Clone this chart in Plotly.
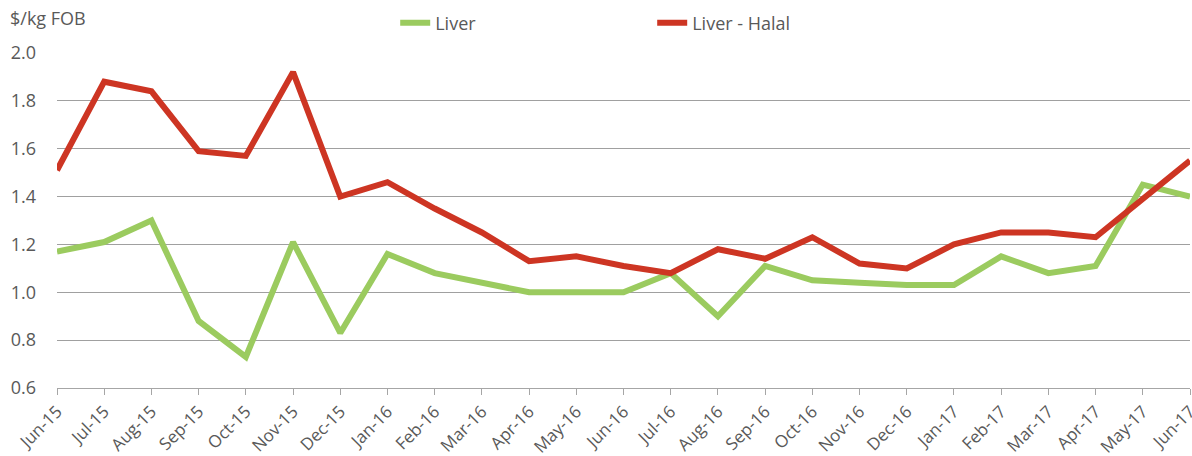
import plotly.graph_objects as go

months = ["Jun-15","Jul-15","Aug-15","Sep-15","Oct-15","Nov-15","Dec-15","Jan-16","Feb-16","Mar-16",
          "Apr-16","May-16","Jun-16","Jul-16","Aug-16","Sep-16","Oct-16","Nov-16","Dec-16","Jan-17",
          "Feb-17","Mar-17","Apr-17","May-17","Jun-17"]
liver = [1.17,1.21,1.30,0.88,0.73,1.21,0.83,1.16,1.08,1.04,
         1.00,1.00,1.00,1.08,0.90,1.11,1.05,1.04,1.03,1.03,
         1.15,1.08,1.11,1.45,1.40]
liver_halal = [1.51,1.88,1.84,1.59,1.57,1.92,1.40,1.46,1.35,1.25,
               1.13,1.15,1.11,1.08,1.18,1.14,1.23,1.12,1.10,1.20,
               1.25,1.25,1.23,1.39,1.55]
y_ticks = [0.6,0.8,1.0,1.2,1.4,1.6,1.8,2.0]

font_fam = "'Open Sans', Lato, sans-serif"
grey = "#595959"

fig = go.Figure()
fig.add_trace(go.Scatter(x=months, y=liver, mode="lines", name="Liver",
                         line=dict(color="#9BCB5F", width=6)))
fig.add_trace(go.Scatter(x=months, y=liver_halal, mode="lines", name="Liver - Halal",
                         line=dict(color="#CD3523", width=6)))

fig.update_layout(
    width=1192, height=456,
    margin=dict(l=57, r=2, t=53, b=68),
    paper_bgcolor="white", plot_bgcolor="white",
    font=dict(family=font_fam, color=grey, size=16),
    showlegend=True,
    legend=dict(orientation="h", x=0.2985, xanchor="left", y=0.99, yanchor="top",
                yref="container", font=dict(size=18, color=grey),
                entrywidth=212, itemwidth=30, bgcolor="rgba(0,0,0,0)"),
    xaxis=dict(type="category", range=[0, len(months)-1], showgrid=False,
               showline=True, linecolor="#a6a6a6", linewidth=1,
               ticks="outside", ticklen=6, tickcolor="#a6a6a6", automargin=False,
               tickangle=-45, tickfont=dict(size=17, color=grey)),
    yaxis=dict(range=[0.6, 2.0], tickvals=y_ticks, tickformat=".1f",
               showgrid=True, gridcolor="#a0a0a0", gridwidth=1, automargin=False,
               zeroline=False, showline=False, ticklabelstandoff=20,
               tickfont=dict(size=18, color=grey)),
    annotations=[dict(text="$/kg FOB", xref="paper", yref="paper",
                      x=-0.043, y=1.062, xanchor="left", yanchor="bottom",
                      showarrow=False, font=dict(size=18, color=grey))],
)

fig.write_html("out.html", config={"displayModeBar": False},
               post_script="document.body.style.margin='0';document.body.style.padding='0';")
